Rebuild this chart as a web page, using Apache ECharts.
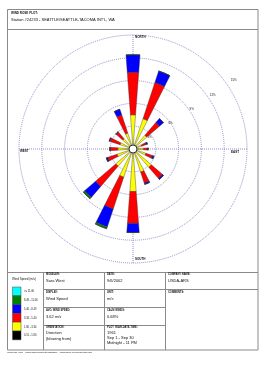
<!DOCTYPE html>
<html>
<head>
<meta charset="utf-8">
<script src="https://cdn.jsdelivr.net/npm/echarts@6/dist/echarts.min.js"></script>
<style>
  html, body { margin: 0; padding: 0; background: #fff; }
  #container { width: 265px; height: 369px; }
</style>
</head>
<body>
<div id="container"></div>
<script>
// wind directions (blowing from), clockwise from north
var dirs = ['N', 'NNE', 'NE', 'ENE', 'E', 'ESE', 'SE', 'SSE', 'S', 'SSW', 'SW', 'WSW', 'W', 'WNW', 'NW', 'NNW'];

// frequency (%) per speed class
var calm0 = [0.4, 0.4, 0.3, 0.3, 0.3, 0.3, 0.3, 0.3, 0.4, 0.4, 0.4, 0.3, 0.3, 0.3, 0.3, 0.3];   // 0.51 - 1.80
var cls1 = [4.1, 3.8, 2.1, 0.9, 1.1, 1.5, 2.9, 2.9, 5.2, 3.5, 2.6, 1.9, 1.7, 1.5, 1.5, 1.9];    // 1.80 - 3.34
var cls2 = [5.6, 5.0, 2.2, 0.6, 0.5, 0.9, 1.9, 1.5, 4.2, 4.4, 3.5, 1.3, 1.0, 1.4, 1.1, 2.5];    // 3.34 - 5.40
var cls3 = [2.3, 1.6, 0.7, 0.2, 0.1, 0.2, 0.2, 0.2, 1.2, 2.5, 1.9, 0.2, 0.05, 0.1, 0.1, 0.8];  // 5.40 - 8.49
var cls4 = [0, 0, 0, 0, 0, 0, 0, 0, 0, 0.25, 0.25, 0, 0, 0, 0, 0];                              // 8.49 - 11.06
var cls5 = [0, 0, 0, 0, 0, 0, 0, 0, 0, 0, 0, 0, 0, 0, 0, 0];                                   // >= 11.06

var speedLabels = ['>= 11.06', '8.49 - 11.06', '5.40 - 8.49', '3.34 - 5.40', '1.80 - 3.34', '0.51 - 1.80'];
var speedColors = ['#00ffff', '#008000', '#0000ff', '#ff0000', '#ffff00', '#000000'];

var ringMax = 15;
var ringStep = 3;

var dom = document.getElementById('container');
var myChart = echarts.init(dom, null, { renderer: 'canvas' });

var FONT = 'Liberation Sans, Arial, sans-serif';
var cx = 133, cy = 149, rr = 114;

function line(x1, y1, x2, y2) {
    return { type: 'line', shape: { x1: x1, y1: y1, x2: x2, y2: y2 },
        style: { stroke: '#8a8a8a', lineWidth: 1 }, silent: true };
}
function txt(s, x, y, size, bold, color) {
    return { type: 'text', x: x, y: y, silent: true, z: 20,
        style: { text: s, fontSize: size, fontFamily: FONT, fontWeight: bold ? 'bold' : 'normal',
            fill: color || '#111', verticalAlign: 'middle' } };
}

var graphics = [
    { type: 'rect', shape: { x: 7.5, y: 9.5, width: 250.5, height: 340.5 },
      style: { fill: null, stroke: '#8a8a8a', lineWidth: 1 }, silent: true },
    line(7.5, 29.5, 258, 29.5),
    line(7.5, 272.5, 258, 272.5),
    line(43.5, 272.5, 43.5, 350),
    line(104.5, 272.5, 104.5, 350),
    line(165.5, 272.5, 165.5, 350),
    line(43.5, 289.5, 258, 289.5),
    line(43.5, 307.5, 165.5, 307.5),
    line(43.5, 325.5, 165.5, 325.5),

    txt('WIND ROSE PLOT:', 11, 13, 3, true),
    txt("Station #24233 - SEATTLE/SEATTLE-TACOMA INT'L, WA", 11, 19.5, 4),

    txt('NORTH', 135, 37.5, 3, true),
    txt('SOUTH', 135, 259, 3, true),
    txt('WEST', 20, 151.5, 3, true),
    txt('EAST', 231, 152.5, 3, true),

    txt('Wind Speed (m/s)', 12, 279, 3),
    txt('MODELER:', 46, 274.5, 2.6, true),
    txt('Sara West', 46, 281, 4),
    txt('DISPLAY:', 46, 292, 2.6, true),
    txt('Wind Speed', 46, 298.5, 4),
    txt('AVG. WIND SPEED:', 46, 310, 2.6, true),
    txt('3.62 m/s', 46, 316.5, 4),
    txt('ORIENTATION:', 46, 327.5, 2.6, true),
    txt('Direction', 46, 333, 4),
    txt('(blowing from)', 46, 338.5, 4),

    txt('DATE:', 107, 274.5, 2.6, true),
    txt('9/6/2002', 107, 281, 4),
    txt('UNIT:', 107, 292, 2.6, true),
    txt('m/s', 107, 298.5, 4),
    txt('CALM WINDS:', 107, 310, 2.6, true),
    txt('0.68%', 107, 316.5, 4),
    txt('PLOT YEAR-DATE-TIME:', 107, 327.5, 2.6, true),
    txt('1961', 107, 333, 4),
    txt('Sep 1 - Sep 30', 107, 338, 4),
    txt('Midnight - 11 PM', 107, 343, 4),

    txt('COMPANY NAME:', 168, 274.5, 2.6, true),
    txt('USDA-ARS', 168, 281, 4),
    txt('COMMENTS:', 168, 292, 2.6, true),

    txt('WRPLOT View - Lakes Environmental Software - www.lakes-environmental.com', 7, 352.5, 2.4),

    // calm circle in the middle
    { type: 'circle', shape: { cx: cx, cy: cy, r: 4 }, z: 30,
      style: { fill: '#fff', stroke: '#000', lineWidth: 0.8 }, silent: true }
];

// legend swatches
for (var i = 0; i < speedLabels.length; i++) {
    var y0 = 287 + i * 8.8;
    graphics.push({ type: 'rect', shape: { x: 12.5, y: y0, width: 8.5, height: 8.8 },
        style: { fill: speedColors[i], stroke: '#444', lineWidth: 0.5 }, silent: true });
    graphics.push(txt(speedLabels[i], 24, y0 + 4.6, 2.6));
}

var dotted = { type: 'dotted', color: '#9090cc', width: 1 };

var option = {
    animation: false,
    backgroundColor: '#fff',
    polar: [
        { center: [cx, cy], radius: rr },
        { center: [cx, cy], radius: rr },
        // ring labels sit on their own, slightly stretched, axis
        { center: [128.5, 151.5], radius: 127 }
    ],
    angleAxis: [
        {
            polarIndex: 0, type: 'value', min: 0, max: 360, interval: 90, startAngle: 90,
            axisLine: { show: false }, axisTick: { show: false }, axisLabel: { show: false },
            splitLine: { show: true, lineStyle: dotted }
        },
        {
            polarIndex: 1, type: 'category', data: dirs, startAngle: 90 + 11.25,
            axisLine: { show: false }, axisTick: { show: false }, axisLabel: { show: false },
            splitLine: { show: false }
        },
        {
            polarIndex: 2, type: 'value', min: 0, max: 360, startAngle: 34,
            axisLine: { show: false }, axisTick: { show: false }, axisLabel: { show: false },
            splitLine: { show: false }
        }
    ],
    radiusAxis: [
        {
            polarIndex: 0, type: 'value', min: 0, max: ringMax, interval: ringStep,
            axisLine: { show: false }, axisTick: { show: false }, axisLabel: { show: false },
            splitLine: { show: true, lineStyle: dotted }
        },
        {
            polarIndex: 1, type: 'value', min: 0, max: ringMax,
            axisLine: { show: false }, axisTick: { show: false }, axisLabel: { show: false },
            splitLine: { show: false }
        },
        {
            polarIndex: 2, type: 'value', min: 0, max: ringMax, interval: ringStep, z: 40,
            axisLine: { show: false }, axisTick: { show: false },
            axisLabel: { show: true, showMinLabel: false, margin: 0, fontSize: 3, fontFamily: FONT,
                align: 'center', verticalAlign: 'middle',
                color: '#222', formatter: '{value}%' },
            splitLine: { show: false }
        }
    ],
    series: [
        [calm0, '#000000'],
        [cls1, '#ffff00'],
        [cls2, '#ff0000'],
        [cls3, '#0000ff'],
        [cls4, '#008000'],
        [cls5, '#00ffff']
    ].map(function (s) {
        return {
            type: 'bar', coordinateSystem: 'polar', polarIndex: 1, stack: 'rose',
            data: s[0], barWidth: '38%', z: 1,
            itemStyle: { color: s[1], borderColor: '#333', borderWidth: 0.4 }
        };
    }),
    graphic: graphics
};

myChart.setOption(option, true);
</script>
</body>
</html>
